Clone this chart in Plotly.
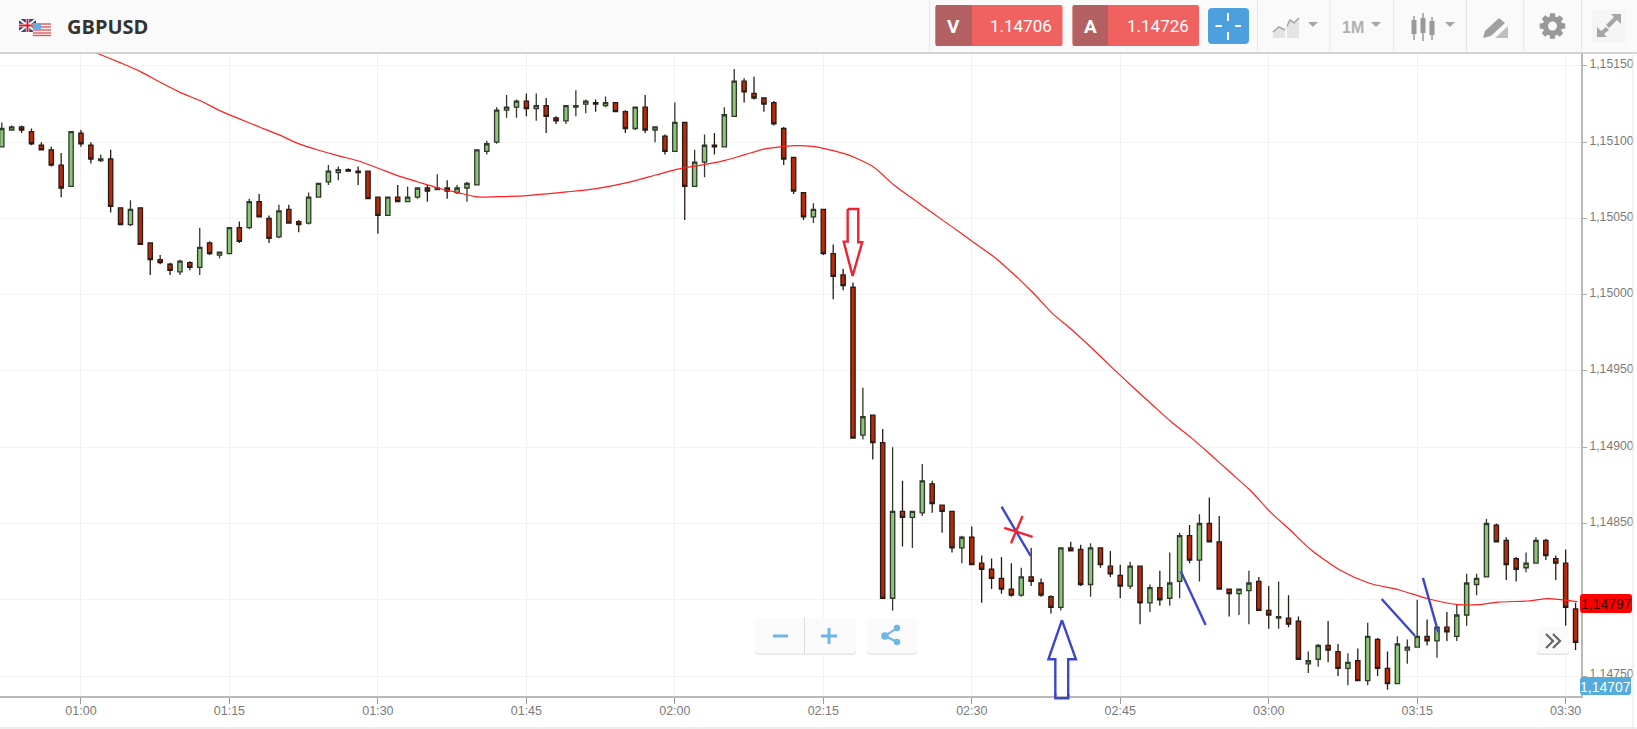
import math
import pandas as pd
import plotly.graph_objects as go

SYMBOL = "GBPUSD"
SELL_PRICE = "1.14706"
BUY_PRICE = "1.14726"
LAST_RED = "1,14797"
LAST_BLUE = "1,14707"
BASE_PRICE = 1.15
FIRST_MINUTE = 52  # minutes after midnight of the first candle

# all series in 1/100000 of a price unit relative to BASE_PRICE
OPEN_PTS = [97,108,110,107,98,95,85,71,106,98,
 88,89,57,46,57,34,23,20,15,21,
 18,34,26,27,44,44,61,50,38,56,
 48,47,64,74,80,82,81,81,64,52,
 64,61,64,70,69,70,67,70,72,94,
 100,121,123,127,122,124,116,114,123,125,
 126,124,126,120,109,123,108,104,94,113,
 71,87,98,97,117,140,132,129,126,109,
 90,67,51,56,27,13,5,-92,-79,-97,
 -199,-142,-146,-143,-124,-138,-142,-166,-159,-176,
 -180,-186,-193,-197,-185,-189,-198,-205,-166,-167,
 -190,-166,-178,-184,-191,-178,-202,-192,-199,-188,
 -158,-174,-150,-162,-193,-196,-194,-188,-207,-212,
 -212,-214,-242,-239,-230,-234,-245,-240,-253,-226,
 -245,-255,-233,-231,-224,-227,-218,-224,-210,-190,
 -185,-151,-161,-173,-179,-176,-161,-173,-176,-206]
HIGH_PTS = [113,111,111,109,100,97,93,107,108,100,
 92,95,57,62,57,34,26,21,23,22,
 44,35,28,44,48,63,66,52,59,59,
 49,67,73,85,84,83,84,81,64,64,
 72,71,70,72,79,75,72,74,95,101,
 123,131,128,132,132,129,117,124,134,128,
 128,130,126,121,123,131,110,105,126,113,
 95,105,106,123,148,142,143,129,127,110,
 90,67,60,56,33,17,8,-61,-79,-88,
 -100,-122,-142,-111,-122,-138,-142,-158,-152,-171,
 -173,-172,-176,-179,-166,-186,-197,-166,-162,-164,
 -163,-166,-168,-177,-175,-178,-190,-181,-169,-156,
 -151,-144,-133,-145,-193,-193,-181,-185,-191,-188,
 -197,-211,-234,-229,-214,-229,-235,-232,-215,-225,
 -234,-224,-226,-200,-213,-218,-208,-203,-183,-183,
 -147,-150,-159,-172,-169,-159,-160,-171,-167,-202]
LOW_PTS = [97,108,106,98,95,84,64,71,97,86,
 87,54,46,45,33,13,20,13,13,16,
 13,26,24,27,34,43,51,34,37,47,
 41,46,64,72,75,81,72,63,40,52,
 61,61,63,61,69,63,66,61,72,92,
 99,116,116,117,114,106,112,112,117,119,
 120,123,120,106,108,106,100,92,94,49,
 71,77,92,97,117,126,128,120,111,85,
 66,49,47,26,-3,3,-94,-95,-108,-199,
 -207,-165,-166,-145,-143,-156,-169,-176,-177,-202,
 -193,-196,-198,-198,-191,-198,-209,-207,-168,-191,
 -198,-179,-185,-199,-193,-216,-208,-204,-204,-199,
 -176,-188,-162,-193,-211,-210,-216,-207,-219,-219,
 -218,-239,-248,-244,-241,-250,-256,-253,-256,-250,
 -259,-255,-242,-231,-230,-238,-227,-227,-217,-197,
 -185,-162,-187,-188,-182,-176,-174,-187,-217,-233]
CLOSE_PTS = [109,110,108,99,95,85,70,107,99,89,
 89,58,46,56,33,23,21,16,22,18,
 31,27,28,44,35,61,51,37,55,47,
 46,64,73,81,82,81,80,63,52,64,
 61,64,70,68,70,68,70,73,95,99,
 121,123,127,122,124,117,114,124,124,127,
 125,126,120,109,123,108,110,94,113,71,
 87,98,97,118,140,133,129,125,112,89,
 68,51,56,27,12,6,-94,-80,-97,-199,
 -142,-146,-142,-122,-137,-142,-166,-159,-177,-180,
 -186,-193,-197,-185,-188,-197,-205,-166,-168,-190,
 -166,-177,-183,-191,-178,-202,-192,-200,-189,-158,
 -174,-150,-162,-193,-196,-193,-189,-207,-210,-211,
 -216,-239,-240,-230,-233,-245,-241,-253,-224,-245,
 -255,-229,-231,-224,-227,-218,-221,-210,-189,-186,
 -150,-162,-177,-180,-176,-161,-171,-176,-205,-228]

MA_MIN = [60,62,64.01,66.01,68.01,70.01,72.02,74.02,76.02,78.03,80.03,82.03,84.03,86.04,88.04,90.04,92.05,94.05,96.05,98.05,100.06,102.06,105.06,107.07,109.07,112.07,115.08,118.08,120.08,121.09,
 123.09,125.09,127.09,129.1,131.1,132.1,134.1,136.11,137.11,138.11,140.11,142.12,144.12,146.12,148.12,150.13,152.13,154.13,156.14,158.14,160.14,162.14,164.15,166.15,168.15,170.16,
 172.16,174.16,176.16,178.17,180.17,182.17,184.17,187.18,190.18,193.19,196.19,199.2,201.2,203.2,206.21,208.21,210.21,211.21]
MA_PTS = [163,157.4,152,146.3,139.3,132.7,127.3,120.7,115.3,110,104.8,98.9,94.7,91,87.7,82.9,77.9,73.9,70,67,64.1,64.3,65,66.1,67.4,69.6,73.3,78.5,82,83.3,
 85.5,88.1,91.9,95.6,97.3,97.8,97.1,94.3,92.5,90.1,83.6,72,62.6,53.2,44,34.6,25.4,14.1,1.6,-12.2,-23.1,-35.1,-47.6,-59.8,-71.6,-83.4,
 -93.7,-105.1,-116.7,-128.5,-142.5,-154.3,-166.7,-180.5,-189.2,-193.6,-199.5,-203.2,-203.2,-201.5,-200.8,-199.3,-200.4,-201.3]

# price ticks; the 1,14800 label sits hidden behind the red price tag in the reference
PRICE_TICKS = [1.1475, 1.148, 1.1485, 1.149, 1.1495, 1.15, 1.1505, 1.151, 1.1515]
PRICE_TICK_LABELS = ["1,14750", "", "1,14850", "1,14900", "1,14950", "1,15000", "1,15050", "1,15100", "1,15150"]

# hand-drawn marks on the screenshot (minute, points)
RED_ARROW_MIN = [137.46,138.53,138.53,138.93,137.96,137.06,137.46,137.46]
RED_ARROW_PTS = [56.2,56.2,34.4,34.4,12.3,34.8,34.8,56.2]
BLUE_ARROW_MIN = [159.11,160.52,159.74,159.74,158.44,158.44,157.74,159.11]
BLUE_ARROW_PTS = [-213.3,-239,-239,-264.6,-264.6,-239,-239,-213.3]
BLUE_STROKES = [([153.01,155.95],[-139,-171.3]), ([171.11,173.63],[-181.3,-216.6]),
                ([191.41,194.77],[-199.5,-223.6]), ([195.58,197.13],[-185.7,-221.3])]
RED_STROKES = [([155.13,153.96],[-145.1,-163]), ([153.28,156.15],[-152.8,-158.7])]

W, H = 1637, 729
ML, MR, MT, MB = 0, 56, 53, 33
PW, PH = W - ML - MR, H - MT - MB
DAY = pd.Timestamp("2016-10-07")
def when(m):
    return (DAY + pd.Timedelta(minutes=m)).strftime("%Y-%m-%d %H:%M:%S.%f")
def price(v):
    return BASE_PRICE + v / 1e5
def px(x):
    return (x - ML) / PW
def py(y):
    return 1 - (y - MT) / PH

times = [when(FIRST_MINUTE + i) for i in range(len(OPEN_PTS))]
fig = go.Figure()
fig.add_trace(go.Candlestick(
    x=times,
    open=[price(v) for v in OPEN_PTS], high=[price(v) for v in HIGH_PTS],
    low=[price(v) for v in LOW_PTS], close=[price(v) for v in CLOSE_PTS],
    whiskerwidth=0, hoverinfo="skip", showlegend=False,
    increasing=dict(fillcolor="#8cc57a", line=dict(color="#2f3a2a", width=1.3)),
    decreasing=dict(fillcolor="#b92a08", line=dict(color="#2a1a14", width=1.3)),
))
def stroke(ms, vs, color, width):
    fig.add_trace(go.Scatter(x=[when(m) for m in ms], y=[price(v) for v in vs], mode="lines",
                             line=dict(color=color, width=width), hoverinfo="skip",
                             showlegend=False, cliponaxis=False))
fig.add_trace(go.Scatter(x=[when(m) for m in MA_MIN], y=[price(v) for v in MA_PTS], mode="lines",
                         line=dict(color="#ff1f1f", width=1.2, shape="spline", smoothing=0.7),
                         hoverinfo="skip", showlegend=False))
stroke(RED_ARROW_MIN, RED_ARROW_PTS, "#ee2233", 2.4)
stroke(BLUE_ARROW_MIN, BLUE_ARROW_PTS, "#3c46c8", 2.4)
for ms, vs in BLUE_STROKES:
    stroke(ms, vs, "#3c46c8", 2.4)
for ms, vs in RED_STROKES:
    stroke(ms, vs, "#ee2233", 2.4)

shapes, notes = [], []
def rrect(x0, y0, x1, y1, fill, r=0, line=None, lw=0):
    X0, X1, Y0, Y1 = px(x0), px(x1), py(y0), py(y1)
    rx, ry = r / PW, r / PH
    if r:
        d = (f"M{X0+rx},{Y0} L{X1-rx},{Y0} Q{X1},{Y0} {X1},{Y0-ry} L{X1},{Y1+ry} Q{X1},{Y1} {X1-rx},{Y1} "
             f"L{X0+rx},{Y1} Q{X0},{Y1} {X0},{Y1+ry} L{X0},{Y0-ry} Q{X0},{Y0} {X0+rx},{Y0} Z")
    else:
        d = f"M{X0},{Y0} L{X1},{Y0} L{X1},{Y1} L{X0},{Y1} Z"
    shapes.append(dict(type="path", xref="paper", yref="paper", path=d, fillcolor=fill,
                       line=dict(color=line or fill, width=lw), layer="above"))
def poly(pts, fill=None, line=None, lw=0, closed=True):
    d = "M" + " L".join(f"{px(x)},{py(y)}" for x, y in pts) + (" Z" if closed else "")
    shapes.append(dict(type="path", xref="paper", yref="paper", path=d,
                       fillcolor=fill or "rgba(0,0,0,0)",
                       line=dict(color=line or "rgba(0,0,0,0)", width=lw), layer="above"))
def seg(x0, y0, x1, y1, color, lw=1):
    poly([(x0, y0), (x1, y1)], line=color, lw=lw, closed=False)
def circle(cx, cy, r, fill):
    shapes.append(dict(type="circle", xref="paper", yref="paper", x0=px(cx-r), x1=px(cx+r),
                       y0=py(cy+r), y1=py(cy-r), fillcolor=fill, line=dict(width=0), layer="above"))
def text(x, y, s, size, color, family="Liberation Sans", xanchor="center"):
    notes.append(dict(xref="paper", yref="paper", x=px(x), y=py(y), text=s, showarrow=False,
                      xanchor=xanchor, yanchor="middle", borderpad=0,
                      font=dict(size=size, color=color, family=family)))

# header
rrect(0, 0, W, 53, "#fafafa")
seg(0, 53, W, 53, "#c4c4c4", 1.4)
for sx in (929.7, 1257.5, 1330, 1393.7, 1466.6, 1523.6, 1581.5):
    seg(sx, 0, sx, 53, "#e6e6e6", 1)
# flags
rrect(19, 19, 36, 32, "#2f3f7f")
seg(19, 19, 36, 32, "#ffffff", 2); seg(19, 32, 36, 19, "#ffffff", 2)
seg(27.5, 19, 27.5, 32, "#ffffff", 3.5); seg(19, 25.5, 36, 25.5, "#ffffff", 3.5)
seg(27.5, 19, 27.5, 32, "#d0202a", 2); seg(19, 25.5, 36, 25.5, "#d0202a", 2)
rrect(33, 23, 51, 36, "#f6f0f0")
for sy in (24, 27, 30, 33, 35.5):
    seg(33, sy, 51, sy, "#e0505a", 1.3)
rrect(33, 23, 41, 30, "#6aaedf")
text(66, 26.5, f"<b>{SYMBOL}</b>", 20, "#333333", "Open Sans", "left")
# bid / ask
for x0, xm, x1, lab, val in ((935.5, 972, 1062.5, "V", SELL_PRICE), (1072.6, 1108, 1199, "A", BUY_PRICE)):
    rrect(x0, 5, x1, 46, "#f0625f", r=2)
    rrect(x0, 5, xm, 46, "#b26062", r=2)
    text((x0 + xm) / 2, 26.5, f"<b>{lab}</b>", 19, "#ffffff", "Roboto")
    text((xm + x1) / 2 + 4, 26, val, 17, "#ffffff", "Roboto")
# crosshair button
rrect(1208, 8, 1249, 44, "#4da0de", r=4)
for a in ((1215.5, 26, 1222, 26), (1235, 26, 1241, 26), (1228, 13, 1228, 21), (1228, 32, 1228, 40)):
    seg(*a, "#ffffff", 2)
# chart-type icon
poly([(1273, 38), (1273, 32), (1279, 27), (1285, 30), (1290, 20), (1294, 23), (1299, 18), (1299, 38)], fill="#e4e4e4")
poly([(1273, 32), (1279, 27), (1285, 30), (1290, 20), (1294, 23), (1299, 18)], line="#a8a8a8", lw=1.6, closed=False)
seg(1286, 18, 1286, 40, "#ffffff", 1.5)
for tx in (1313, 1376, 1450):
    poly([(tx - 5, 22), (tx + 5, 22), (tx, 27)], fill="#a5a5a5")
text(1353, 27.5, "<b>1M</b>", 16, "#b0b0b0", "Liberation Sans")
# candle icon
for cx, y0, y1, w0, w1 in ((1414, 20, 34, 16, 40), (1423, 18, 33, 13, 41), (1432, 21, 35, 17, 40)):
    seg(cx, w0, cx, w1, "#999999", 1.5)
    rrect(cx - 2.5, y0, cx + 2.5, y1, "#999999")
# pencil icon
poly([(1483, 38), (1485, 31), (1499, 18), (1505, 23), (1491, 36)], fill="#a0a0a0")
poly([(1495, 38), (1508, 38), (1508, 26)], fill="#c0c0c0")
# gear
gear = []
for i in range(8):
    a = i * math.pi / 4
    for da, r in ((-0.30, 9.8), (-0.19, 13), (0.19, 13), (0.30, 9.8)):
        gear.append((1552.5 + r * math.cos(a + da), 26 + r * math.sin(a + da)))
poly(gear, fill="#999999")
circle(1552.5, 26, 4.5, "#fafafa")
# expand
rrect(1592, 10, 1626, 43, "#f5f5f5")
poly([(1621, 14), (1621, 24), (1617, 20), (1609, 28), (1606, 25), (1614, 17), (1611, 14)], fill="#a5a5a5")
poly([(1597, 37), (1597, 27), (1601, 31), (1606, 27), (1609, 30), (1604, 34), (1607, 37)], fill="#a5a5a5")

# bottom frame
seg(0, 728, W, 728, "#dddddd", 1.2)
seg(1633, 53, 1633, 729, "#e8e8e8", 1)
# tail of the blue hand-drawn arrow, which runs past the plot area
poly([(1055.3, 694), (1055.3, 698.3), (1068.3, 698.3), (1068.3, 694)], line="#3c46c8", lw=2.4, closed=False)

# zoom + share
rrect(755, 619, 856, 655, "#e6e6e6", r=4)
rrect(755, 618, 856, 653.5, "#fafafa", r=4)
seg(804.5, 618, 804.5, 653.5, "#dddddd", 1)
seg(773, 636, 788, 636, "#6db6e6", 3)
seg(821, 636, 837, 636, "#6db6e6", 3)
seg(829, 628, 829, 644, "#6db6e6", 3)
rrect(867, 619, 917, 655, "#e6e6e6", r=4)
rrect(867, 618, 917, 653.5, "#fafafa", r=4)
seg(885, 636, 897, 628, "#6db6e6", 2)
seg(885, 636, 897, 642, "#6db6e6", 2)
circle(885, 636, 3.8, "#6db6e6"); circle(897, 628, 3.2, "#6db6e6"); circle(897, 642, 3.2, "#6db6e6")
# >> button
rrect(1537, 628, 1569, 655, "#e4e4e4", r=4)
rrect(1537, 627, 1569, 653.5, "#fafafa", r=4)
poly([(1546, 634), (1553, 641), (1546, 648)], line="#666666", lw=2.2, closed=False)
poly([(1553, 634), (1560, 641), (1553, 648)], line="#666666", lw=2.2, closed=False)

# price tags
rrect(1580, 594, 1632, 613, "#ff0000", r=3)
text(1606, 604, LAST_RED, 14, "#3a0000")
rrect(1580, 677, 1631, 695, "#53acdc", r=3)
text(1605.5, 686.5, LAST_BLUE, 14, "#ffffff")

fig.update_layout(
    width=W, height=H, autosize=False,
    margin=dict(l=ML, r=MR, t=MT, b=MB, pad=0),
    paper_bgcolor="#ffffff", plot_bgcolor="#ffffff",
    boxgap=0.38, showlegend=False, dragmode=False,
    shapes=shapes, annotations=notes,
    font=dict(family="Liberation Sans", size=12.5, color="#7a7a7a"),
    xaxis=dict(type="date", range=[when(51.82), when(211.55)], rangeslider=dict(visible=False),
               tick0="2016-10-07 01:00:00", dtick=900000, tickformat="%H:%M",
               showgrid=True, gridcolor="#f1f1f1", gridwidth=1, zeroline=False,
               showline=True, linecolor="#b8b8b8", linewidth=1.6,
               ticks="outside", ticklen=6, tickcolor="#999999", tickwidth=1, ticklabelstandoff=-4,
               tickfont=dict(size=12.5, color="#7a7a7a")),
    yaxis=dict(side="right", range=[price(-263.1), price(158.5)], tickmode="array",
               tickvals=PRICE_TICKS, ticktext=PRICE_TICK_LABELS, ticklabelshift=-2,
               showgrid=True, gridcolor="#f3f3f3", gridwidth=1, zeroline=False,
               showline=True, linecolor="#b8b8b8", linewidth=2,
               ticks="outside", ticklen=4, tickcolor="#aaaaaa", tickwidth=1,
               tickfont=dict(size=12.2, color="#7a7a7a")),
)
fig.write_html("out.html", config=dict(displayModeBar=False, staticPlot=True),
               post_script="document.body.style.margin='0';document.documentElement.style.overflow='hidden';")
